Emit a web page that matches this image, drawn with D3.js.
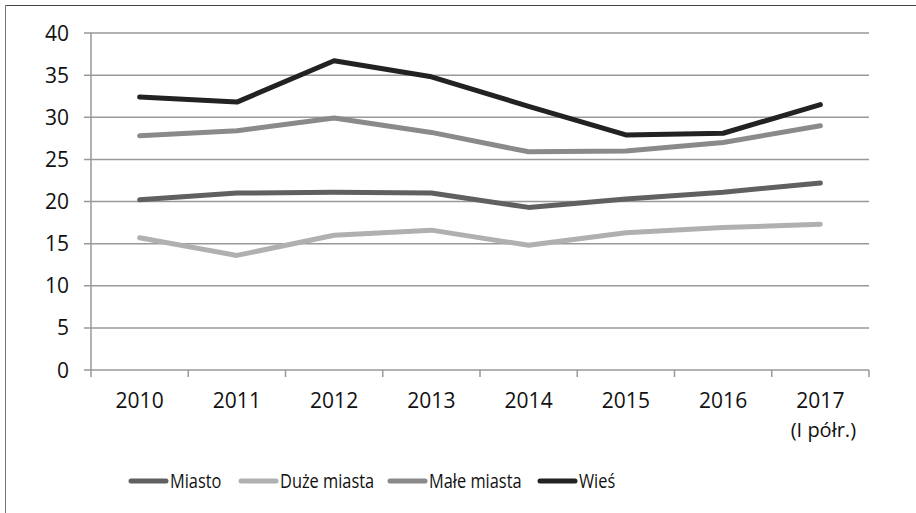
<!DOCTYPE html>
<html>
<head>
<meta charset="utf-8">
<script src="https://cdn.jsdelivr.net/npm/d3@7"></script>
<style>
  body { margin: 0; background: #fff; }
  text { font-family: "Open Sans", sans-serif; fill: #111; }
</style>
</head>
<body>
<script>
// data
const years = ['2010', '2011', '2012', '2013', '2014', '2015', '2016', '2017'];
const miasto = [20.2, 21.0, 21.1, 21.0, 19.3, 20.3, 21.1, 22.2];
const duzeMiasta = [15.7, 13.6, 16.0, 16.6, 14.8, 16.3, 16.9, 17.3];
const maleMiasta = [27.8, 28.4, 29.9, 28.2, 25.9, 26.0, 27.0, 29.0];
const wies = [32.4, 31.8, 36.7, 34.8, 31.3, 27.9, 28.1, 31.5];
const yTicks = [0, 5, 10, 15, 20, 25, 30, 35, 40];

const series = [
  { name: 'Miasto', values: miasto, color: '#606060' },
  { name: 'Duże miasta', values: duzeMiasta, color: '#b0b0b0' },
  { name: 'Małe miasta', values: maleMiasta, color: '#8a8a8a' },
  { name: 'Wieś', values: wies, color: '#222222' }
];

const W = 916, H = 513;
const plotL = 91, plotR = 869, plotT = 33, plotB = 370;

const svg = d3.select('body').append('svg')
  .attr('width', W)
  .attr('height', H);

// outer frame (only top and left edges show)
svg.append('line')
  .attr('x1', 5.5).attr('x2', W)
  .attr('y1', 5.5).attr('y2', 5.5)
  .attr('stroke', '#444');
svg.append('line')
  .attr('x1', 5.5).attr('x2', 5.5)
  .attr('y1', 5.5).attr('y2', H)
  .attr('stroke', '#777');

const x = d3.scaleBand().domain(years).range([plotL, plotR]);
const y = d3.scaleLinear().domain([0, 40]).range([plotB, plotT]);

// gridlines
svg.append('g')
  .selectAll('line')
  .data(yTicks)
  .enter()
  .append('line')
  .attr('x1', plotL - 7)
  .attr('x2', plotR)
  .attr('y1', d => y(d))
  .attr('y2', d => y(d))
  .attr('stroke', '#999')
  .attr('stroke-width', 1.5);

// y labels
svg.append('g')
  .selectAll('text')
  .data(yTicks)
  .enter()
  .append('text')
  .attr('x', 69)
  .attr('y', d => y(d))
  .attr('dy', '0.36em')
  .attr('text-anchor', 'end')
  .style('font-size', '21px')
  .text(d => d);

// y axis line
svg.append('line')
  .attr('x1', plotL).attr('x2', plotL)
  .attr('y1', plotT).attr('y2', plotB + 7)
  .attr('stroke', '#999')
  .attr('stroke-width', 1.5);

// x tick marks
const xEdges = years.map(d => x(d) + x.bandwidth());
svg.append('g')
  .selectAll('line')
  .data(xEdges)
  .enter()
  .append('line')
  .attr('x1', d => d).attr('x2', d => d)
  .attr('y1', plotB).attr('y2', plotB + 7)
  .attr('stroke', '#999')
  .attr('stroke-width', 1.5);

// x labels
svg.append('g')
  .selectAll('text')
  .data(years)
  .enter()
  .append('text')
  .attr('x', d => x(d) + x.bandwidth() / 2)
  .attr('y', 408)
  .attr('text-anchor', 'middle')
  .style('font-size', '21px')
  .text(d => d);

svg.append('text')
  .attr('x', x('2017') + x.bandwidth() / 2 + 3)
  .attr('y', 437)
  .attr('text-anchor', 'middle')
  .style('font-size', '20px')
  .text('(I półr.)');

// lines
const line = d3.line()
  .x((d, i) => x(years[i]) + x.bandwidth() / 2)
  .y(d => y(d));

svg.append('g')
  .selectAll('path')
  .data(series)
  .enter()
  .append('path')
  .attr('d', d => line(d.values))
  .attr('fill', 'none')
  .attr('stroke', d => d.color)
  .attr('stroke-width', 5)
  .attr('stroke-linecap', 'round')
  .attr('stroke-linejoin', 'round');

// legend
const legX = [131, 241, 390, 540];
const leg = svg.append('g')
  .selectAll('g')
  .data(series)
  .enter()
  .append('g')
  .attr('transform', (d, i) => `translate(${legX[i]},481)`);

leg.append('line')
  .attr('x1', 0).attr('x2', 35)
  .attr('stroke', d => d.color)
  .attr('stroke-width', 5)
  .attr('stroke-linecap', 'round');

// legend text is narrower than the tick labels, squeeze it a bit
leg.append('text')
  .attr('transform', 'translate(39,0) scale(0.82,1)')
  .attr('dy', '0.36em')
  .style('font-size', '20px')
  .text(d => d.name);
</script>
</body>
</html>
